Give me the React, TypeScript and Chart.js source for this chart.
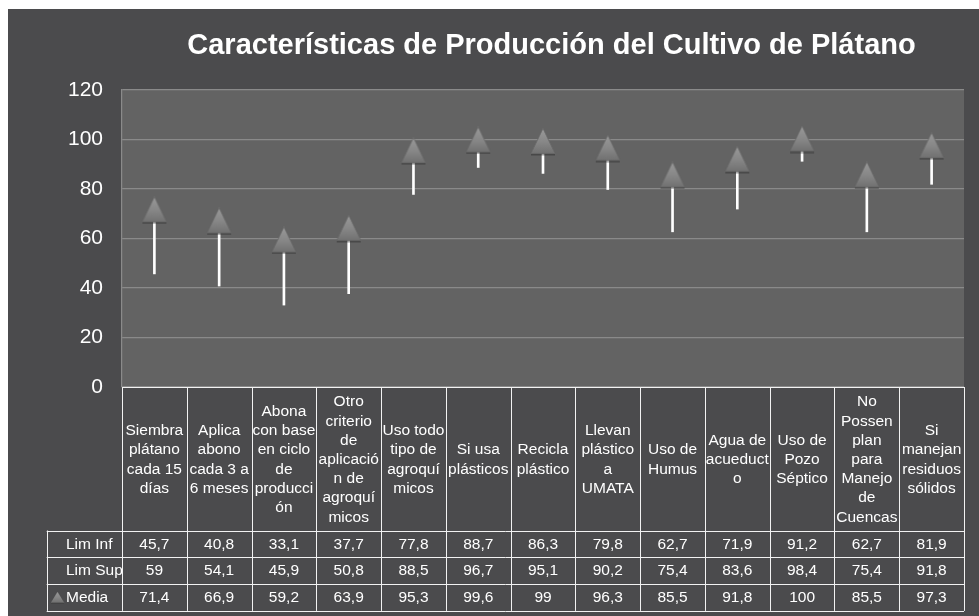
import { useEffect, useRef } from "react";
import { Chart, registerables } from "chart.js";

Chart.register(...registerables);

const chartTitle = "Características de Producción del Cultivo de Plátano";

const categories: string[][] = [
  ["Siembra", "plátano", "cada 15", "días"],
  ["Aplica", "abono", "cada 3 a", "6 meses"],
  ["Abona", "con base", "en ciclo", "de", "producci", "ón"],
  ["Otro", "criterio", "de", "aplicació", "n de", "agroquí", "micos"],
  ["Uso todo", "tipo de", "agroquí", "micos"],
  ["Si usa", "plásticos"],
  ["Recicla", "plástico"],
  ["Llevan", "plástico", "a", "UMATA"],
  ["Uso de", "Humus"],
  ["Agua de", "acueduct", "o"],
  ["Uso de", "Pozo", "Séptico"],
  ["No", "Possen", "plan", "para", "Manejo", "de", "Cuencas"],
  ["Si", "manejan", "residuos", "sólidos"],
];

const limInf = [45.7, 40.8, 33.1, 37.7, 77.8, 88.7, 86.3, 79.8, 62.7, 71.9, 91.2, 62.7, 81.9];
const limSup = [59, 54.1, 45.9, 50.8, 88.5, 96.7, 95.1, 90.2, 75.4, 83.6, 98.4, 75.4, 91.8];
const media = [71.4, 66.9, 59.2, 63.9, 95.3, 99.6, 99, 96.3, 85.5, 91.8, 100, 85.5, 97.3];

const seriesNames = ["Lim Inf", "Lim Sup", "Media"];
const yMin = 0;
const yMax = 120;
const yStep = 20;

const FONT = "'Liberation Sans', Arial, sans-serif";

function fmt(v: number): string {
  return String(v).replace(".", ",");
}

function makeTriangle(w: number, h: number): HTMLCanvasElement {
  const c = document.createElement("canvas");
  c.width = w;
  c.height = h;
  const g = c.getContext("2d")!;
  // soft shadow at the base
  g.fillStyle = "rgba(40,40,40,0.45)";
  g.fillRect(1, h - 3, w - 2, 2.5);
  const grad = g.createLinearGradient(0, 0, 0, h);
  grad.addColorStop(0, "#9a9a9a");
  grad.addColorStop(0.5, "#878787");
  grad.addColorStop(1, "#6c6c6c");
  g.beginPath();
  g.moveTo(w / 2, 0.5);
  g.lineTo(w - 1, h - 2.5);
  g.lineTo(1, h - 2.5);
  g.closePath();
  g.fillStyle = grad;
  g.fill();
  g.strokeStyle = "#6a6a6a";
  g.lineWidth = 0.8;
  g.stroke();
  return c;
}

export default function App() {
  const ref = useRef<HTMLCanvasElement | null>(null);

  useEffect(() => {
    if (!ref.current) return;
    const tri = makeTriangle(26, 28);

    const plotBg = {
      id: "plotBg",
      beforeDraw(chart: any) {
        const { ctx, chartArea: a } = chart;
        ctx.save();
        ctx.fillStyle = "#636363";
        ctx.fillRect(a.left, a.top, a.right - a.left, a.bottom - a.top);
        ctx.restore();
      },
    };

    const titlePlugin = {
      id: "customTitle",
      afterDraw(chart: any) {
        const ctx = chart.ctx;
        ctx.save();
        ctx.fillStyle = "#ffffff";
        ctx.font = `bold 29px ${FONT}`;
        ctx.textAlign = "center";
        ctx.textBaseline = "alphabetic";
        ctx.fillText(chartTitle, 543.5, 45);
        ctx.restore();
      },
    };

    const tablePlugin = {
      id: "dataTable",
      afterDraw(chart: any) {
        const { ctx, chartArea: a } = chart;
        const n = categories.length;
        const colW = (a.right - a.left) / n;
        const top = a.bottom;
        const headBottom = top + 143.5;
        const rowH = 26.8;
        const tableBottom = headBottom + rowH * 3;
        const hdrLeft = 38.7;
        const px = (v: number) => Math.round(v) + 0.5;

        ctx.save();
        ctx.strokeStyle = "#f2f2f2";
        ctx.lineWidth = 1;
        ctx.beginPath();
        ctx.moveTo(a.left, px(top));
        ctx.lineTo(a.right, px(top));
        for (let r = 0; r <= 3; r++) {
          const y = px(headBottom + r * rowH);
          ctx.moveTo(hdrLeft, y);
          ctx.lineTo(a.right, y);
        }
        for (let i = 0; i <= n; i++) {
          const x = px(a.left + i * colW);
          ctx.moveTo(x, top);
          ctx.lineTo(x, tableBottom);
        }
        ctx.moveTo(px(hdrLeft), headBottom);
        ctx.lineTo(px(hdrLeft), tableBottom);
        ctx.stroke();

        ctx.fillStyle = "#ffffff";
        ctx.font = `15.5px ${FONT}`;
        ctx.textAlign = "center";
        ctx.textBaseline = "middle";
        const lineH = 19.2;
        const midHead = (top + headBottom) / 2 + 1;
        categories.forEach((lines, i) => {
          const cx = chart.scales.x.getPixelForValue(i);
          const y0 = midHead - ((lines.length - 1) * lineH) / 2;
          lines.forEach((t, k) => ctx.fillText(t, cx, y0 + k * lineH));
        });

        const rows = [limInf, limSup, media];
        rows.forEach((vals, r) => {
          const cy = headBottom + r * rowH + rowH / 2 + 0.5;
          vals.forEach((v, i) => {
            const cx = chart.scales.x.getPixelForValue(i);
            ctx.fillText(fmt(v), cx, cy);
          });
        });

        ctx.textAlign = "left";
        seriesNames.forEach((name, r) => {
          const cy = headBottom + r * rowH + rowH / 2 + 0.5;
          ctx.fillText(name, 58, cy);
        });
        const ky = headBottom + 2 * rowH + rowH / 2;
        ctx.drawImage(tri, 42.5, ky - 6, 14, 12);
        ctx.restore();
      },
    };

    const hl = categories.map((_, i) => [
      Math.min(limInf[i], limSup[i], media[i]),
      Math.max(limInf[i], limSup[i], media[i]),
    ]);

    const chart = new Chart(ref.current, {
      type: "line",
      data: {
        labels: categories,
        datasets: [
          {
            type: "line",
            label: "Media",
            data: media,
            showLine: false,
            pointStyle: tri as any,
            pointRadius: 13,
            pointHoverRadius: 13,
            order: 0,
          },
          {
            type: "line",
            label: "Lim Sup",
            data: limSup,
            showLine: false,
            pointRadius: 0,
            order: 1,
          },
          {
            type: "line",
            label: "Lim Inf",
            data: limInf,
            showLine: false,
            pointRadius: 0,
            order: 2,
          },
          {
            type: "bar",
            label: "hl",
            data: hl as any,
            backgroundColor: "#ffffff",
            borderWidth: 0,
            barThickness: 2,
            order: 3,
          } as any,
        ],
      },
      options: {
        animation: false,
        responsive: true,
        maintainAspectRatio: false,
        events: [],
        layout: { padding: { top: 81, right: 15, bottom: 229, left: 0 } },
        plugins: {
          legend: { display: false },
          tooltip: { enabled: false },
          title: { display: false },
        },
        scales: {
          x: {
            type: "category",
            display: false,
            offset: true,
          },
          y: {
            min: yMin,
            max: yMax,
            afterFit(scale: any) {
              scale.width = 114;
            },
            ticks: {
              stepSize: yStep,
              color: "#ffffff",
              padding: 19,
              font: { family: FONT, size: 21 },
            },
            grid: {
              color: "#8a8a8a",
              lineWidth: 1.2,
              drawTicks: false,
            },
            border: { display: true, color: "#8a8a8a", width: 1.2 },
          },
        },
      },
      plugins: [plotBg, titlePlugin, tablePlugin],
    });
    return () => chart.destroy();
  }, []);

  return (
    <div
      style={{
        position: "fixed",
        left: 8,
        top: 9,
        right: 0,
        bottom: 0,
        background: "#4b4b4d",
      }}
    >
      <canvas ref={ref} />
    </div>
  );
}
